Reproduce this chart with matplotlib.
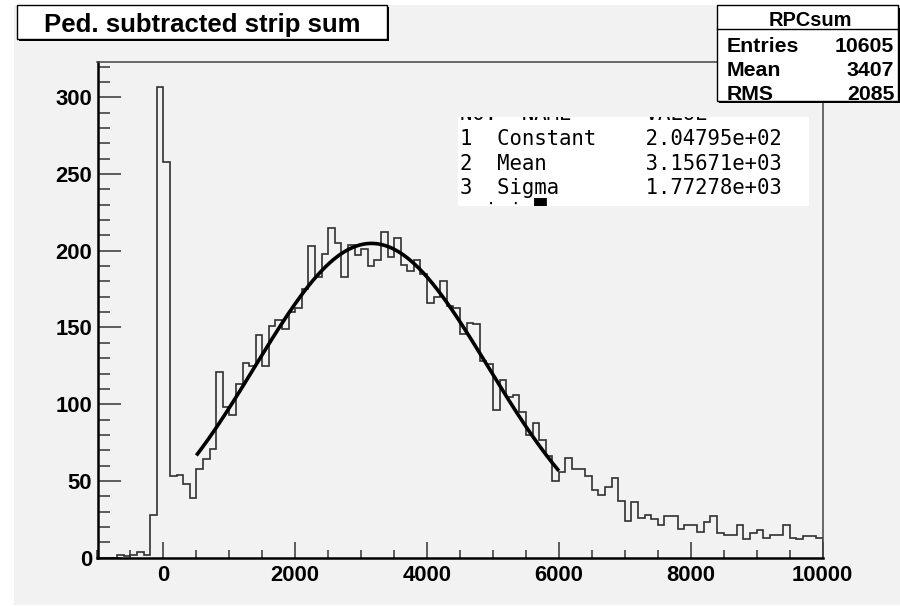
import numpy as np
import matplotlib
matplotlib.use('Agg')
import matplotlib.pyplot as plt
from matplotlib.patches import Rectangle
from matplotlib.lines import Line2D
from matplotlib.ticker import MultipleLocator
from matplotlib.transforms import Bbox, TransformedBbox

# ---- data ----
x_lo, x_hi, bin_w = -1000, 10000, 100
counts = [0, 0, 0, 2, 1, 2, 4, 2, 28,
          307, 258,
          53, 54, 48, 39, 58, 64, 71, 121, 98, 93,
          113, 127, 125, 145, 125, 151, 155, 149, 160, 163,
          175, 203, 183, 198, 215, 205, 183, 204, 197, 201,
          190, 194, 212, 196, 208, 191, 187, 194, 185, 166,
          170, 180, 164, 163, 146, 153, 152, 128, 126, 96,
          116, 105, 106, 95, 80, 88, 77, 66, 50, 56,
          65, 58, 58, 53, 44, 41, 46, 52, 37, 24,
          36, 26, 28, 25, 21, 27, 27, 19, 21, 21,
          17, 23, 27, 16, 15, 15, 21, 12, 16, 18,
          13, 15, 15, 21, 13, 12, 14, 14, 13]

# gaus fit
fit_const, fit_mean, fit_sigma = 204.795, 3156.71, 1772.78
fit_lo, fit_hi = 500, 6000
fit_names = ['Constant', 'Mean', 'Sigma']
fit_vals = ['2.04795e+02', '3.15671e+03', '1.77278e+03']

hist_name = 'RPCsum'
stats_names = ['Entries', 'Mean', 'RMS']
stats_vals = ['10605', '3407', '2085']
title = 'Ped. subtracted strip sum'

# ---- figure, everything placed in pixels ----
W, H = 900, 606
fig = plt.figure(figsize=(W / 100, H / 100), dpi=100)
fig.patch.set_facecolor('white')

def fx(x):
    return x / W

def fy(y):
    return 1 - y / H

def rect(x0, y0, x1, y1, **kw):
    r = Rectangle((fx(x0), fy(y1)), fx(x1) - fx(x0), fy(y0) - fy(y1),
                  transform=fig.transFigure, **kw)
    fig.add_artist(r)
    return r

def box(x0, y0, x1, y1, shadow=2.5):
    rect(x0 + shadow, y0 + shadow, x1 + shadow, y1 + shadow, fc='black', ec='none', zorder=4)
    rect(x0, y0, x1, y1, fc='white', ec='black', lw=1.0, zorder=5)

# grey canvas
rect(14, 5, 900, 605, fc='#f2f2f2', ec='none', zorder=-10)

ax = fig.add_axes([fx(97.5), fy(557.7), fx(822.5) - fx(97.5), fy(62) - fy(557.7)])
ax.set_facecolor('#f2f2f2')

edges = np.arange(x_lo, x_hi + bin_w, bin_w)
ax.stairs(counts, edges, color='#303030', lw=1.2)

xf = np.linspace(fit_lo, fit_hi, 400)
yf = fit_const * np.exp(-0.5 * ((xf - fit_mean) / fit_sigma) ** 2)
ax.plot(xf, yf, color='black', lw=2.6, solid_capstyle='butt')

ax.set_xlim(x_lo, x_hi)
ax.set_ylim(0, 323)

# ROOT-like frame
for s in ['left', 'bottom']:
    ax.spines[s].set_linewidth(1.8)
    ax.spines[s].set_color('black')
for s in ['top', 'right']:
    ax.spines[s].set_linewidth(1.1)
    ax.spines[s].set_color('#444444')

ax.xaxis.set_major_locator(MultipleLocator(2000))
ax.xaxis.set_minor_locator(MultipleLocator(500))
ax.yaxis.set_major_locator(MultipleLocator(50))
ax.yaxis.set_minor_locator(MultipleLocator(10))
ax.tick_params(axis='x', which='major', direction='in', length=11.5, width=1.1, color='#333333', pad=5)
ax.tick_params(axis='x', which='minor', direction='in', length=6, width=1.1, color='#333333')
ax.tick_params(axis='y', which='major', direction='in', length=16.3, width=1.1, color='#333333', pad=4)
ax.tick_params(axis='y', which='minor', direction='in', length=8.6, width=1.1, color='#333333')
for lab in ax.get_xticklabels() + ax.get_yticklabels():
    lab.set_fontfamily('Liberation Sans')
    lab.set_fontweight('bold')
    lab.set_fontsize(15.8)

# title box
box(17.3, 5, 386.7, 39, shadow=2)
fig.text(fx(202), fy(32), title, ha='center', va='baseline', fontsize=18.5,
         fontweight='bold', family='Liberation Sans', zorder=6)

# stats box
box(716.7, 5, 897.5, 100.5, shadow=2.5)
fig.add_artist(Line2D([fx(716.7), fx(897.5)], [fy(29.3), fy(29.3)],
                      transform=fig.transFigure, color='black', lw=1.0, zorder=6))
fig.text(fx(810), fy(26), hist_name, ha='center', va='baseline', fontsize=14.4,
         fontweight='bold', family='Liberation Sans', zorder=6)
for i, (n, v) in enumerate(zip(stats_names, stats_vals)):
    yb = 51.7 + 24 * i
    fig.text(fx(726.7), fy(yb), n, ha='left', va='baseline', fontsize=15.3,
             fontweight='bold', family='Liberation Sans', zorder=6)
    fig.text(fx(894.3), fy(yb), v, ha='right', va='baseline', fontsize=15.3,
             fontweight='bold', family='Liberation Sans', zorder=6)

# fit parameter box (white, lines above and below are cut off)
rect(458.3, 116.7, 809, 206, fc='white', ec='none', zorder=5)
clip = TransformedBbox(Bbox.from_extents(fx(458.3), fy(206), fx(809), fy(116.7)),
                       fig.transFigure)
fit_lines = ['NO.  NAME      VALUE']
for i, (n, v) in enumerate(zip(fit_names, fit_vals)):
    fit_lines.append('%d  %-12s%s' % (i + 1, n, v))
fit_lines.append('  i i \u2588')
for i, line in enumerate(fit_lines):
    t = fig.text(fx(460), fy(120.5 + 24.5 * i), line, ha='left', va='baseline',
                 fontsize=14.9, family='DejaVu Sans Mono', zorder=6)
    t.set_clip_box(clip)
    t.set_clip_on(True)

fig.savefig('out.png', dpi=100)
